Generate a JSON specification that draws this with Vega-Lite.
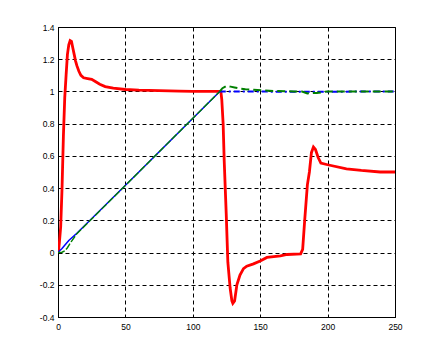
{
  "$schema": "https://vega.github.io/schema/vega-lite/v6.json",
  "width": 337,
  "height": 290,
  "autosize": "none",
  "padding": {"left": 58, "top": 27, "right": 43, "bottom": 40},
  "background": "white",
  "config": {
    "view": {"stroke": "black", "strokeWidth": 1},
    "axis": {
      "grid": true,
      "gridColor": "black",
      "gridOpacity": 1,
      "gridDash": [4, 3],
      "gridWidth": 1,
      "domainColor": "black",
      "domainWidth": 1,
      "ticks": false,
      "labelFont": "Liberation Sans",
      "labelFontSize": 8.5,
      "labelColor": "black",
      "title": null
    }
  },
  "data": {
    "values": [
      {"t": 0, "v": 0, "s": "a"},
      {"t": 0.5, "v": 0.02, "s": "a"},
      {"t": 1, "v": 0.06, "s": "a"},
      {"t": 2, "v": 0.16, "s": "a"},
      {"t": 3, "v": 0.4, "s": "a"},
      {"t": 4, "v": 0.72, "s": "a"},
      {"t": 5, "v": 0.96, "s": "a"},
      {"t": 6, "v": 1.1, "s": "a"},
      {"t": 7, "v": 1.23, "s": "a"},
      {"t": 8, "v": 1.29, "s": "a"},
      {"t": 9, "v": 1.315, "s": "a"},
      {"t": 10, "v": 1.31, "s": "a"},
      {"t": 11, "v": 1.27, "s": "a"},
      {"t": 12, "v": 1.23, "s": "a"},
      {"t": 13, "v": 1.19, "s": "a"},
      {"t": 14, "v": 1.16, "s": "a"},
      {"t": 15.5, "v": 1.125, "s": "a"},
      {"t": 17, "v": 1.1, "s": "a"},
      {"t": 19, "v": 1.085, "s": "a"},
      {"t": 22, "v": 1.08, "s": "a"},
      {"t": 25, "v": 1.075, "s": "a"},
      {"t": 28, "v": 1.06, "s": "a"},
      {"t": 31, "v": 1.045, "s": "a"},
      {"t": 35, "v": 1.03, "s": "a"},
      {"t": 41, "v": 1.02, "s": "a"},
      {"t": 50, "v": 1.012, "s": "a"},
      {"t": 60, "v": 1.008, "s": "a"},
      {"t": 75, "v": 1.005, "s": "a"},
      {"t": 90, "v": 1.002, "s": "a"},
      {"t": 100, "v": 1.0, "s": "a"},
      {"t": 120.8, "v": 1.0, "s": "a"},
      {"t": 121.5, "v": 0.95, "s": "a"},
      {"t": 122.5, "v": 0.8, "s": "a"},
      {"t": 123.3, "v": 0.57, "s": "a"},
      {"t": 124.8, "v": 0.24, "s": "a"},
      {"t": 126, "v": -0.06, "s": "a"},
      {"t": 127.7, "v": -0.22, "s": "a"},
      {"t": 129, "v": -0.3, "s": "a"},
      {"t": 129.7, "v": -0.315, "s": "a"},
      {"t": 131, "v": -0.3, "s": "a"},
      {"t": 132.7, "v": -0.2, "s": "a"},
      {"t": 135, "v": -0.14, "s": "a"},
      {"t": 137.6, "v": -0.1, "s": "a"},
      {"t": 140, "v": -0.085, "s": "a"},
      {"t": 145, "v": -0.07, "s": "a"},
      {"t": 150, "v": -0.052, "s": "a"},
      {"t": 155, "v": -0.03, "s": "a"},
      {"t": 165, "v": -0.02, "s": "a"},
      {"t": 170, "v": -0.012, "s": "a"},
      {"t": 180, "v": -0.008, "s": "a"},
      {"t": 181.5, "v": 0.02, "s": "a"},
      {"t": 183, "v": 0.2, "s": "a"},
      {"t": 185, "v": 0.42, "s": "a"},
      {"t": 186.5, "v": 0.5, "s": "a"},
      {"t": 188, "v": 0.62, "s": "a"},
      {"t": 189.5, "v": 0.655, "s": "a"},
      {"t": 191, "v": 0.64, "s": "a"},
      {"t": 193, "v": 0.59, "s": "a"},
      {"t": 195, "v": 0.555, "s": "a"},
      {"t": 200, "v": 0.545, "s": "a"},
      {"t": 214, "v": 0.52, "s": "a"},
      {"t": 225, "v": 0.51, "s": "a"},
      {"t": 239, "v": 0.5, "s": "a"},
      {"t": 250, "v": 0.5, "s": "a"},

      {"t": 0, "v": 0, "s": "b"},
      {"t": 1, "v": 0.01, "s": "b"},
      {"t": 3, "v": 0.025, "s": "b"},
      {"t": 5, "v": 0.045, "s": "b"},
      {"t": 8, "v": 0.075, "s": "b"},
      {"t": 14, "v": 0.12, "s": "b"},
      {"t": 60, "v": 0.5, "s": "b"},
      {"t": 120, "v": 1.0, "s": "b"},
      {"t": 185, "v": 0.998, "s": "b"},
      {"t": 250, "v": 1.0, "s": "b"},

      {"t": 0, "v": 0, "s": "c"},
      {"t": 3, "v": 0.002, "s": "c"},
      {"t": 5, "v": 0.01, "s": "c"},
      {"t": 7, "v": 0.03, "s": "c"},
      {"t": 10, "v": 0.07, "s": "c"},
      {"t": 14, "v": 0.117, "s": "c"},
      {"t": 60, "v": 0.5, "s": "c"},
      {"t": 120, "v": 1.0, "s": "c"},
      {"t": 122, "v": 1.02, "s": "c"},
      {"t": 125, "v": 1.035, "s": "c"},
      {"t": 128, "v": 1.03, "s": "c"},
      {"t": 131, "v": 1.025, "s": "c"},
      {"t": 135, "v": 1.018, "s": "c"},
      {"t": 139, "v": 1.014, "s": "c"},
      {"t": 145, "v": 1.01, "s": "c"},
      {"t": 152, "v": 1.006, "s": "c"},
      {"t": 160, "v": 1.003, "s": "c"},
      {"t": 175, "v": 1.0, "s": "c"},
      {"t": 181, "v": 1.0, "s": "c"},
      {"t": 185, "v": 0.988, "s": "c"},
      {"t": 188, "v": 0.99, "s": "c"},
      {"t": 192, "v": 0.991, "s": "c"},
      {"t": 196, "v": 0.995, "s": "c"},
      {"t": 200, "v": 1.0, "s": "c"},
      {"t": 250, "v": 1.0, "s": "c"}
    ]
  },
  "encoding": {
    "x": {
      "field": "t",
      "type": "quantitative",
      "scale": {"domain": [0, 250], "nice": false, "zero": false},
      "axis": {"values": [0, 50, 100, 150, 200, 250], "labelPadding": 5, "labelFlush": false}
    },
    "y": {
      "field": "v",
      "type": "quantitative",
      "scale": {"domain": [-0.4, 1.4], "nice": false, "zero": false},
      "axis": {
        "values": [-0.4, -0.2, 0, 0.2, 0.4, 0.6, 0.8, 1, 1.2, 1.4],
        "labelExpr": "'' + datum.value",
        "labelPadding": 4,
        "labelFlush": false
      }
    }
  },
  "layer": [
    {
      "transform": [{"filter": "datum.s == 'a'"}],
      "mark": {"type": "line", "color": "#ff0000", "strokeWidth": 2.8, "clip": true}
    },
    {
      "transform": [{"filter": "datum.s == 'b' && datum.t <= 120"}],
      "mark": {"type": "line", "color": "#0000ff", "strokeWidth": 1.5, "clip": true}
    },
    {
      "transform": [{"filter": "datum.s == 'c' && datum.t <= 120"}],
      "mark": {"type": "line", "color": "#008000", "strokeWidth": 1.4, "strokeDash": [7, 2], "clip": true}
    },
    {
      "transform": [{"filter": "datum.s == 'b' && datum.t >= 120"}],
      "mark": {"type": "line", "color": "#0000ff", "strokeWidth": 2, "strokeDash": [6, 3, 2, 3], "clip": true}
    },
    {
      "transform": [{"filter": "datum.s == 'c' && datum.t >= 120"}],
      "mark": {"type": "line", "color": "#008000", "strokeWidth": 2, "strokeDash": [8, 4], "clip": true}
    }
  ]
}
